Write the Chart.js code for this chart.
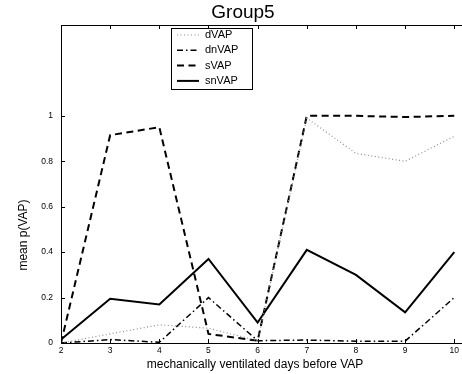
<!DOCTYPE html>
<html>
<head>
<meta charset="utf-8">
<script src="https://cdn.jsdelivr.net/npm/chart.js@4.4.1/dist/chart.umd.min.js"></script>
<style>
  html, body { margin: 0; padding: 0; background: #fff; overflow: hidden; }
  #wrap { width: 462px; height: 374px; }
</style>
</head>
<body>
<div id="wrap"><canvas id="c" width="462" height="374"></canvas></div>
<script>
// days on mechanical ventilation before VAP
const days = [2, 3, 4, 5, 6, 7, 8, 9, 10];
const dVAP  = [0.0, 0.04, 0.08, 0.065, 0.01, 0.99, 0.835, 0.80, 0.91];
const dnVAP = [0.0, 0.015, 0.003, 0.20, 0.01, 0.013, 0.008, 0.008, 0.20];
const sVAP  = [0.0, 0.915, 0.95, 0.04, 0.01, 1.0, 1.0, 0.995, 1.0];
const snVAP = [0.015, 0.195, 0.17, 0.37, 0.09, 0.41, 0.30, 0.135, 0.40];
const xTicks = [2, 3, 4, 5, 6, 7, 8, 9, 10];
const yTicks = [0, 0.2, 0.4, 0.6, 0.8, 1];

const FONT = 'Liberation Sans, Arial, sans-serif';

const series = [
    { label: 'dVAP',  data: dVAP,  color: '#8c8c8c', width: 1.2, dash: [1, 2.5] },
    { label: 'dnVAP', data: dnVAP, color: '#000000', width: 1.5, dash: [6, 3, 1.5, 3] },
    { label: 'sVAP',  data: sVAP,  color: '#000000', width: 2,   dash: [7, 4.5] },
    { label: 'snVAP', data: snVAP, color: '#000000', width: 2,   dash: [] }
];

// axes box, inward ticks, titles and the legend, drawn like the matlab figure
const decor = {
    id: 'decor',
    afterDraw(chart) {
        const ctx = chart.ctx;
        const a = chart.chartArea;
        const xs = chart.scales.x, ys = chart.scales.y;
        ctx.save();
        ctx.strokeStyle = '#000';
        ctx.lineWidth = 1;
        ctx.setLineDash([]);
        ctx.beginPath();
        ctx.moveTo(a.left + 0.5, a.bottom + 0.5);
        ctx.lineTo(a.left + 0.5, a.top + 0.5);
        ctx.lineTo(a.right + 2, a.top + 0.5);
        ctx.moveTo(a.left, a.bottom + 0.5);
        ctx.lineTo(a.right + 2, a.bottom + 0.5);
        ctx.stroke();

        ctx.beginPath();
        xTicks.forEach(t => {
            const px = Math.round(xs.getPixelForValue(t)) + 0.5;
            ctx.moveTo(px, a.bottom); ctx.lineTo(px, a.bottom - 4);
            ctx.moveTo(px, a.top); ctx.lineTo(px, a.top + 4);
        });
        yTicks.forEach(t => {
            const py = Math.round(ys.getPixelForValue(t)) + 0.5;
            ctx.moveTo(a.left, py); ctx.lineTo(a.left + 4, py);
        });
        ctx.stroke();

        ctx.fillStyle = '#000';
        ctx.textAlign = 'center';
        ctx.textBaseline = 'middle';
        ctx.font = '19px ' + FONT;
        ctx.fillText('Group5', 243, 13);
        ctx.font = '12px ' + FONT;
        ctx.fillText('mechanically ventilated days before VAP', 255, 365);
        ctx.save();
        ctx.translate(24, 235);
        ctx.rotate(-Math.PI / 2);
        ctx.fillText('mean p(VAP)', 0, 0);
        ctx.restore();

        // legend
        const lx = 171, ly = 28, lw = 81, lh = 61;
        ctx.fillStyle = '#fff';
        ctx.fillRect(lx, ly, lw, lh);
        ctx.strokeStyle = '#000';
        ctx.lineWidth = 1;
        ctx.strokeRect(lx + 0.5, ly + 0.5, lw, lh);
        ctx.font = '11px ' + FONT;
        ctx.textAlign = 'left';
        series.forEach((s, i) => {
            const yy = ly + 7 + i * 15.3;
            ctx.strokeStyle = s.color;
            ctx.lineWidth = s.width;
            ctx.setLineDash(s.dash);
            ctx.beginPath();
            ctx.moveTo(lx + 6, yy); ctx.lineTo(lx + 28, yy);
            ctx.stroke();
            ctx.fillStyle = '#000';
            ctx.fillText(s.label, lx + 34, yy);
        });
        ctx.restore();
    }
};

new Chart(document.getElementById('c'), {
    type: 'line',
    data: {
        datasets: series.map(s => ({
            label: s.label,
            data: days.map((d, i) => ({ x: d, y: s.data[i] })),
            borderColor: s.color,
            borderWidth: s.width,
            borderDash: s.dash,
            pointRadius: 0,
            fill: false,
            tension: 0
        }))
    },
    options: {
        responsive: false,
        animation: false,
        devicePixelRatio: 1,
        layout: { padding: { top: 25, right: 0, left: 0, bottom: 0 } },
        plugins: { legend: { display: false }, title: { display: false }, tooltip: { enabled: false } },
        scales: {
            x: {
                type: 'linear',
                min: 2,
                max: 10.14,
                afterBuildTicks: sc => { sc.ticks = xTicks.map(v => ({ value: v })); },
                afterFit: sc => { sc.height = 31; },
                grid: { display: false, drawTicks: false },
                border: { display: false },
                ticks: { color: '#000', font: { family: FONT, size: 8.5 }, padding: 3, maxRotation: 0 }
            },
            y: {
                min: 0,
                max: 1.4,
                afterBuildTicks: sc => { sc.ticks = yTicks.map(v => ({ value: v })); },
                afterFit: sc => { sc.width = 61; },
                grid: { display: false, drawTicks: false },
                border: { display: false },
                ticks: { color: '#000', font: { family: FONT, size: 8.5 }, padding: 8, callback: v => String(v) }
            }
        }
    },
    plugins: [decor]
});
</script>
</body>
</html>
